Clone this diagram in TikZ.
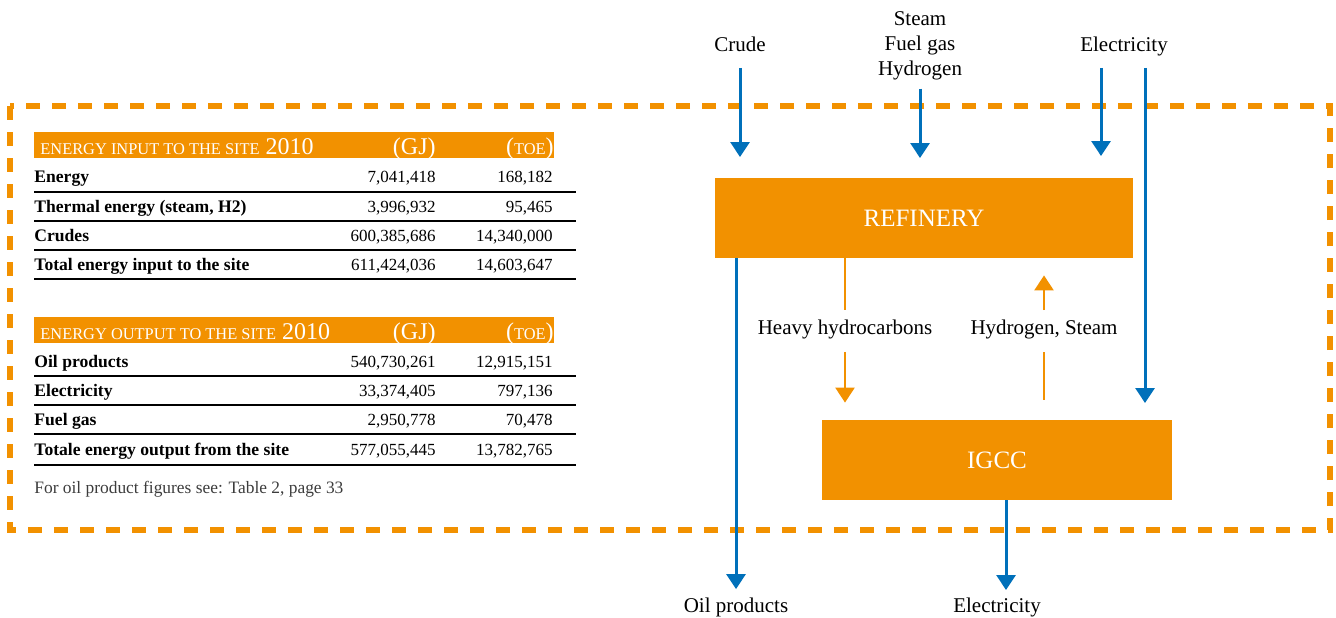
\documentclass[tikz,border=0pt]{standalone}
\usepackage{fontspec}
\setmainfont{Liberation Serif}
\usepackage{tikz}
\usetikzlibrary{arrows.meta}

\definecolor{siteorange}{RGB}{242,145,0}
\definecolor{flowblue}{RGB}{0,112,186}
\definecolor{notegray}{RGB}{60,60,60}

\newcommand{\hdrsc}[1]{{\fontsize{8.2}{9}\selectfont #1}}

\tikzset{
  siteline/.style={draw=siteorange, line width=3pt, dash pattern=on 7pt off 6pt},
  unitbox/.style={fill=siteorange, text=white, inner sep=0pt, font=\fontsize{12.5}{14}\selectfont},
  flowlabel/.style={inner sep=0pt, align=center, font=\fontsize{10.5}{12.5}\selectfont},
  blueflow/.style={draw=flowblue, line width=1.5pt, -{Triangle[width=9.5pt,length=7.5pt]}},
  orangewire/.style={draw=siteorange, line width=1.2pt},
  orangeflow/.style={orangewire, -{Triangle[width=9.5pt,length=7.5pt]}},
  hdr/.style={inner sep=0pt, text=white, font=\fontsize{12}{14}\selectfont},
  rowname/.style={inner sep=0pt, anchor=base west, font=\fontsize{8.8}{10}\selectfont\bfseries},
  rownum/.style={inner sep=0pt, anchor=base east, font=\fontsize{8.5}{10}\selectfont},
  rowrule/.style={draw=black, line width=0.8pt},
}

\begin{document}
\begin{tikzpicture}[x=0.5pt,y=-0.5pt]
    \useasboundingbox (0,0) rectangle (1336,617);
    \draw[siteline] (10,106) rectangle (1330,530);

    \fill[siteorange] (34,132) rectangle (554,158);
    \node[hdr, anchor=base west] (inhead) at (40,154) {\hdrsc{ENERGY INPUT TO THE SITE} 2010};
    \node[hdr, anchor=base east] (ingj) at (436,154) {(GJ)};
    \node[hdr, anchor=base east] (intoe) at (554,154) {(\hdrsc{TOE})};
    \node[rowname] (ina) at (34,182) {Energy};
    \node[rownum] (inagj) at (436,182) {7,041,418};
    \node[rownum] (inatoe) at (553,182) {168,182};
    \draw[rowrule] (34,192) -- (576,192);
    \node[rowname] (inb) at (34,212) {Thermal energy (steam, H2)};
    \node[rownum] (inbgj) at (436,212) {3,996,932};
    \node[rownum] (inbtoe) at (553,212) {95,465};
    \draw[rowrule] (34,221) -- (576,221);
    \node[rowname] (inc) at (34,241) {Crudes};
    \node[rownum] (incgj) at (436,241) {600,385,686};
    \node[rownum] (inctoe) at (553,241) {14,340,000};
    \draw[rowrule] (34,250) -- (576,250);
    \node[rowname] (ind) at (34,270) {Total energy input to the site};
    \node[rownum] (indgj) at (436,270) {611,424,036};
    \node[rownum] (indtoe) at (553,270) {14,603,647};
    \draw[rowrule] (34,279) -- (576,279);

    \fill[siteorange] (34,317) rectangle (554,343);
    \node[hdr, anchor=base west] (outhead) at (40,339) {\hdrsc{ENERGY OUTPUT TO THE SITE} 2010};
    \node[hdr, anchor=base east] (outgj) at (436,339) {(GJ)};
    \node[hdr, anchor=base east] (outtoe) at (554,339) {(\hdrsc{TOE})};
    \node[rowname] (outa) at (34,367) {Oil products};
    \node[rownum] (outagj) at (436,367) {540,730,261};
    \node[rownum] (outatoe) at (553,367) {12,915,151};
    \draw[rowrule] (34,376) -- (576,376);
    \node[rowname] (outb) at (34,396) {Electricity};
    \node[rownum] (outbgj) at (436,396) {33,374,405};
    \node[rownum] (outbtoe) at (553,396) {797,136};
    \draw[rowrule] (34,405) -- (576,405);
    \node[rowname] (outc) at (34,425) {Fuel gas};
    \node[rownum] (outcgj) at (436,425) {2,950,778};
    \node[rownum] (outctoe) at (553,425) {70,478};
    \draw[rowrule] (34,434) -- (576,434);
    \node[rowname] (outd) at (34,455) {Totale energy output from the site};
    \node[rownum] (outdgj) at (436,455) {577,055,445};
    \node[rownum] (outdtoe) at (553,455) {13,782,765};
    \draw[rowrule] (34,465) -- (576,465);
    \node[inner sep=0pt, anchor=base west, text=notegray, font=\fontsize{8.7}{10}\selectfont] (note) at (34,493) {For oil product figures see: Table 2, page 33};

    \node[unitbox, minimum width=209pt, minimum height=40pt] (refinery) at (924,218) {REFINERY};
    \node[unitbox, minimum width=175pt, minimum height=40pt] (igcc) at (997,460) {IGCC};

    \node[flowlabel] (crude) at (740,44) {Crude};
    \node[flowlabel] (utilities) at (920,46) {Steam\\Fuel gas\\Hydrogen};
    \node[flowlabel] (elecin) at (1124,46) {Electricity};
    \node[flowlabel] (heavy) at (845,329) {Heavy hydrocarbons};
    \node[flowlabel] (hydrogen) at (1044,329) {Hydrogen, Steam};
    \node[flowlabel] (oil) at (736,607) {Oil products};
    \node[flowlabel] (elecout) at (997,607) {Electricity};
    \coordinate (crudetip) at (740,157);
    \coordinate (utiltip) at (920,158);
    \coordinate (electip) at (1101,156);
    \coordinate (igcctip) at (1145,403);
    \coordinate (powertip) at (1006,590);

    \draw[blueflow, shorten <=8pt] (crude) -- (crudetip);
    \draw[blueflow, shorten <=4pt] (utilities) -- (utiltip);
    \draw[blueflow, shorten <=6pt] (elecin.south -| electip) -- (electip);
    \draw[blueflow, shorten <=6pt] (elecin.south -| igcctip) -- (igcctip);
    \draw[blueflow, shorten >=4pt] (refinery.south -| oil.north) -- (oil.north);
    \draw[blueflow] (igcc.south -| powertip) -- (powertip);

    \draw[orangewire, shorten >=4.5pt] (refinery.south -| heavy.north) -- (heavy.north);
    \draw[orangeflow, shorten <=6.5pt, shorten >=8.5pt] (heavy.south) -- (igcc.north -| heavy.south);
    \draw[orangewire, shorten <=10pt, shorten >=6.5pt] (igcc.north -| hydrogen.south) -- (hydrogen.south);
    \draw[orangeflow, shorten <=4.5pt, shorten >=8.5pt] (hydrogen.north) -- (refinery.south -| hydrogen.north);
\end{tikzpicture}
\end{document}
